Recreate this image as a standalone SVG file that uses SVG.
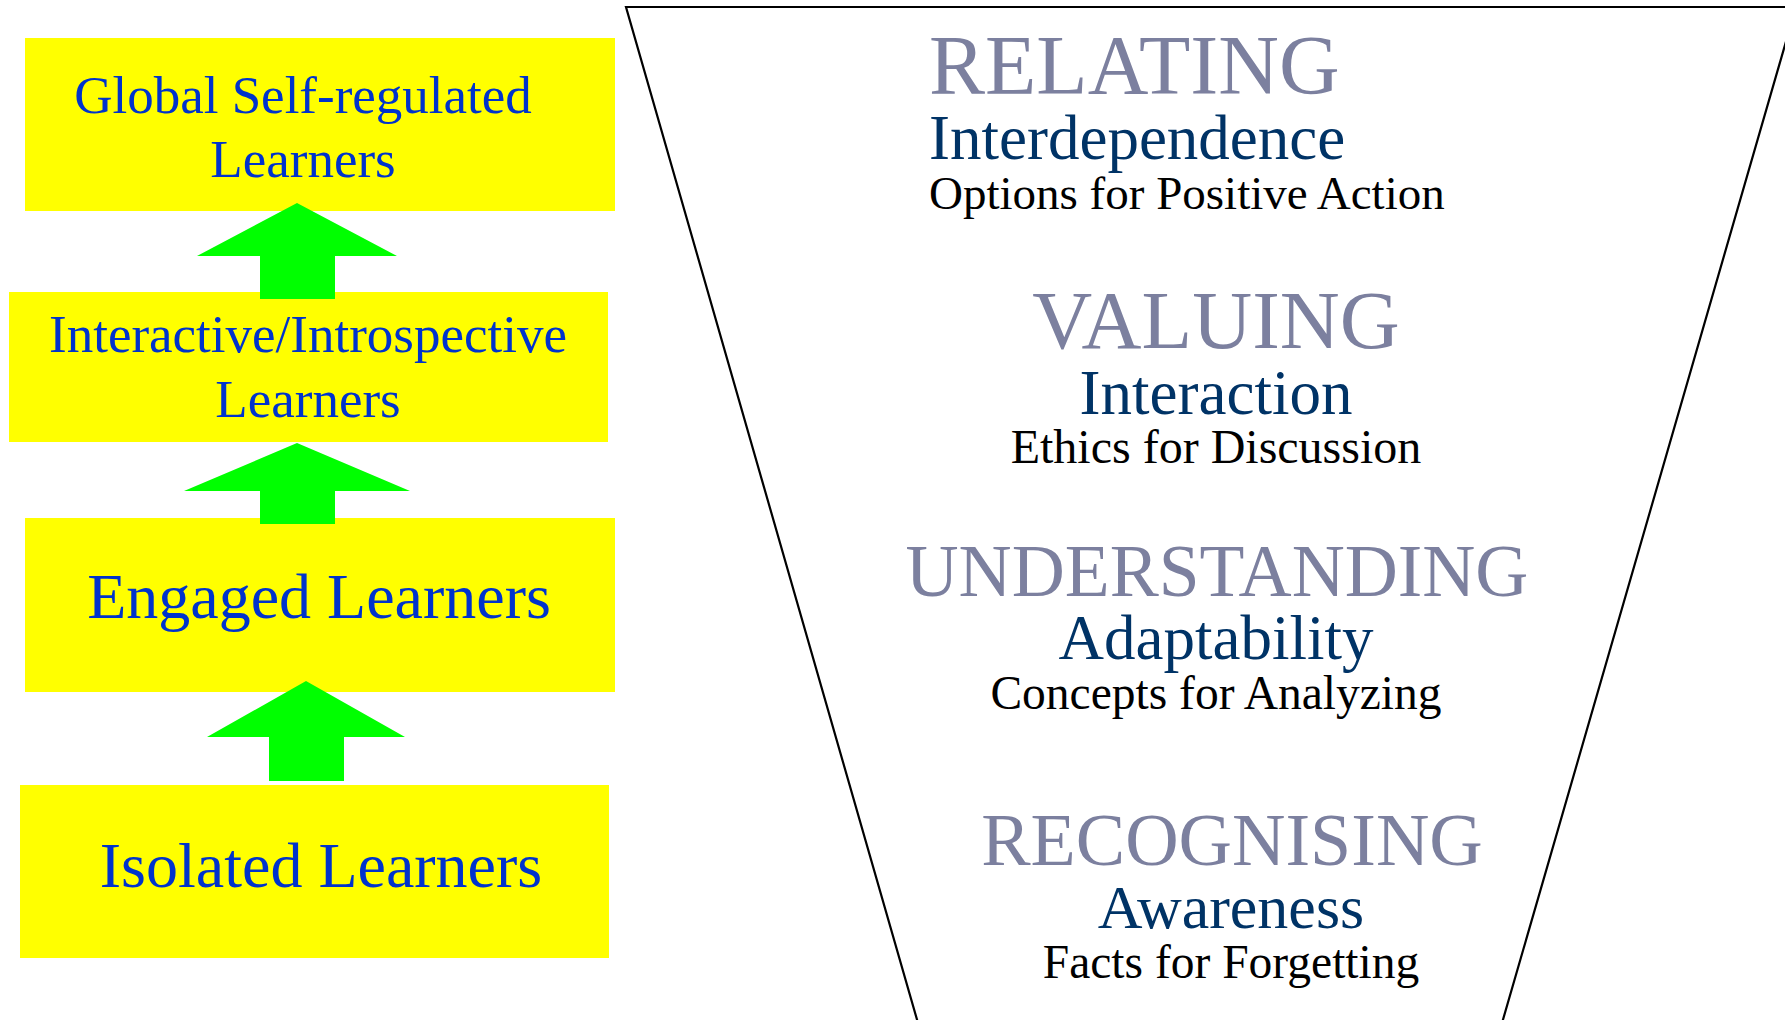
<svg xmlns="http://www.w3.org/2000/svg" width="1785" height="1020" viewBox="0 0 1785 1020">
<style>
.box{fill:#ffff00}
.arrow{fill:#00ff00}
.lt{font-family:"Liberation Serif","Times New Roman",serif;fill:#0033cc;text-anchor:middle}
.h{font-family:"Liberation Serif","Times New Roman",serif;fill:#7c809f}
.m{font-family:"Liberation Serif","Times New Roman",serif;fill:#003366}
.s{font-family:"Liberation Serif","Times New Roman",serif;fill:#000000}
.c{text-anchor:middle}
</style>
<rect width="1785" height="1020" fill="#ffffff"/>
<g id="funnel">
<polygon points="626,7 1796,7 1500,1030 920,1030" fill="#ffffff" stroke="#000000" stroke-width="2.2"/>
</g>
<g id="node-global">
<rect class="box" x="25" y="38" width="590" height="173"/>
<text class="lt" x="303" y="113" font-size="53">Global Self-regulated</text>
<text class="lt" x="303" y="177" font-size="53">Learners</text>
</g>
<g id="node-interactive">
<rect class="box" x="9" y="292" width="599" height="150"/>
<text class="lt" x="308" y="352" font-size="53">Interactive/Introspective</text>
<text class="lt" x="308" y="417" font-size="53">Learners</text>
</g>
<g id="node-engaged">
<rect class="box" x="25" y="518" width="590" height="174"/>
<text class="lt" x="319" y="618" font-size="64">Engaged Learners</text>
</g>
<g id="node-isolated">
<rect class="box" x="20" y="785" width="589" height="173"/>
<text class="lt" x="321" y="887" font-size="64">Isolated Learners</text>
</g>
<g id="connectors">
<polygon class="arrow" points="297,203 397,256 335,256 335,299 260,299 260,256 197,256"/>
<polygon class="arrow" points="297,443 410,491 335,491 335,524 260,524 260,491 184,491"/>
<polygon class="arrow" points="306,681 405,737 344,737 344,781 269,781 269,737 207,737"/>
</g>
<g id="level-relating">
<text class="h" x="929" y="94" font-size="84">RELATING</text>
<text class="m" x="929" y="159" font-size="63">Interdependence</text>
<text class="s" x="929" y="209" font-size="47">Options for Positive Action</text>
</g>
<g id="level-valuing">
<text class="h c" x="1216" y="348" font-size="83">VALUING</text>
<text class="m c" x="1216" y="414" font-size="63">Interaction</text>
<text class="s c" x="1216" y="463" font-size="48">Ethics for Discussion</text>
</g>
<g id="level-understanding">
<text class="h c" x="1217" y="596" font-size="73.5">UNDERSTANDING</text>
<text class="m c" x="1216" y="659" font-size="63">Adaptability</text>
<text class="s c" x="1216" y="709" font-size="47.5">Concepts for Analyzing</text>
</g>
<g id="level-recognising">
<text class="h c" x="1232" y="865" font-size="74">RECOGNISING</text>
<text class="m c" x="1231" y="928" font-size="62">Awareness</text>
<text class="s c" x="1231" y="978" font-size="47.5">Facts for Forgetting</text>
</g>
</svg>
